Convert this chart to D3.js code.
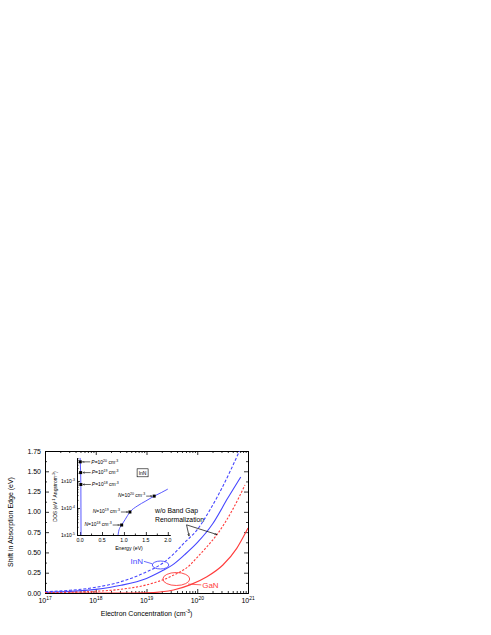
<!DOCTYPE html>
<html>
<head>
<meta charset="utf-8">
<script src="https://cdn.jsdelivr.net/npm/d3@7/dist/d3.min.js"></script>
<style>
  body { margin: 0; background: #fff; }
  svg { font-family: "Liberation Sans", Arial, sans-serif; }
</style>
</head>
<body>
<div id="chart"></div>
<script>
// ---- main chart data (electron concentration in cm^-3, shift in eV) ----
const innNoBgrN     = [1e17, 3.16e17, 1e18, 3.16e18, 1e19, 2e19, 3.16e19, 5.6e19, 1e20, 1.8e20, 3.16e20, 6.8e20];
const innNoBgrShift = [0.016, 0.034, 0.07, 0.14, 0.26, 0.36, 0.46, 0.62, 0.78, 1.03, 1.31, 1.75];

const innBgrN       = [1e17, 3.16e17, 1e18, 3.16e18, 1e19, 2e19, 3.16e19, 5.6e19, 1e20, 2e20, 4e20, 7.2e20];
const innBgrShift   = [0.008, 0.02, 0.045, 0.095, 0.18, 0.27, 0.34, 0.47, 0.62, 0.85, 1.17, 1.43];

const ganNoBgrN     = [1e17, 3.16e17, 1e18, 3.16e18, 1e19, 3.16e19, 7.2e19, 1e20, 1.55e20, 2.45e20, 5.1e20, 8.7e20];
const ganNoBgrShift = [0.004, 0.009, 0.021, 0.046, 0.10, 0.21, 0.345, 0.44, 0.57, 0.72, 1.04, 1.33];

const ganBgrN       = [3e17, 1e18, 3.16e18, 1e19, 2e19, 3.4e19, 7.2e19, 1.55e20, 3.2e20, 6e20, 1e21];
const ganBgrShift   = [0, 0, 0, 0.002, 0.015, 0.037, 0.10, 0.20, 0.345, 0.55, 0.80];

const xMajor = [1e17, 1e18, 1e19, 1e20, 1e21];
const xExp = ["17", "18", "19", "20", "21"];
const yMajor = [0, 0.25, 0.5, 0.75, 1.0, 1.25, 1.5, 1.75];

// ---- inset data (energy in eV, DOS in eV^-1 Angstrom^-3) ----
const cbEnergy = [0.866, 0.88, 0.91, 0.948, 1.03, 1.136, 1.3, 1.5, 1.689, 1.85, 2.0];
const cbDos    = [1e-5, 1.38e-5, 1.9e-5, 2.34e-5, 3.8e-5, 7.1e-5, 1.17e-4, 1.82e-4, 2.75e-4, 3.7e-4, 5.0e-4];
const vbEnergy = [0.022, 0.02, 0.018, 0.013, 0.005, 0.0];
const vbDos    = [1e-5, 1e-4, 7.4e-4, 2.04e-3, 5.1e-3, 7.1e-3];

const nPointE   = [0.948, 1.136, 1.689];
const nPointDos = [2.34e-5, 7.1e-5, 2.75e-4];
const nPointExp = ["18", "19", "20"];
const pPointE   = [0.018, 0.013, 0.005];
const pPointDos = [7.4e-4, 2.04e-3, 5.1e-3];
const pPointExp = ["18", "19", "20"];

const insetXTicks = [0, 0.5, 1.0, 1.5, 2.0];
const insetYTicks = [1e-5, 1e-4, 1e-3];
const insetYExp = ["-5", "-4", "-3"];

const blue = "#4646ff";
const red = "#ff3c3c";

const W = 491, H = 635;
const svg = d3.select("#chart").append("svg")
    .attr("width", W).attr("height", H);

svg.append("defs").append("marker")
    .attr("id", "arr")
    .attr("viewBox", "0 0 10 10")
    .attr("refX", 10).attr("refY", 5)
    .attr("markerWidth", 4).attr("markerHeight", 4)
    .attr("orient", "auto")
    .append("path")
    .attr("d", "M0,1 L10,5 L0,9")
    .attr("fill", "none")
    .attr("stroke", "#000")
    .attr("stroke-width", 1.5);

// main scales
const mL = 45, mR = 248, mT = 451, mB = 593;
const x = d3.scaleLog().domain([1e17, 1e21]).range([mL, mR]);
const y = d3.scaleLinear().domain([0, 1.75]).range([mB, mT]);

const xMinor = [];
for (let e = 17; e < 21; e++) {
    for (let k = 2; k < 10; k++) xMinor.push(k * Math.pow(10, e));
}
const yMinor = d3.range(0.125, 1.75, 0.25);

function styleAxis(g) {
    g.selectAll("path.domain").attr("stroke", "#000").attr("stroke-width", 1);
    g.selectAll(".tick line").attr("stroke", "#000").attr("stroke-width", 0.8);
    g.selectAll(".tick text").remove();
}

// main axes, ticks inward on all four sides
svg.append("g").attr("transform", `translate(0,${mB})`)
    .call(d3.axisBottom(x).tickValues(xMajor).tickSize(-4).tickSizeOuter(0).tickFormat(""))
    .call(styleAxis);
svg.append("g").attr("transform", `translate(0,${mB})`)
    .call(d3.axisBottom(x).tickValues(xMinor).tickSize(-2).tickSizeOuter(0).tickFormat(""))
    .call(styleAxis);
svg.append("g").attr("transform", `translate(0,${mT})`)
    .call(d3.axisTop(x).tickValues(xMajor).tickSize(-4).tickSizeOuter(0).tickFormat(""))
    .call(styleAxis);
svg.append("g").attr("transform", `translate(0,${mT})`)
    .call(d3.axisTop(x).tickValues(xMinor).tickSize(-2).tickSizeOuter(0).tickFormat(""))
    .call(styleAxis);
svg.append("g").attr("transform", `translate(${mL},0)`)
    .call(d3.axisLeft(y).tickValues(yMajor).tickSize(-4).tickSizeOuter(0).tickFormat(""))
    .call(styleAxis);
svg.append("g").attr("transform", `translate(${mL},0)`)
    .call(d3.axisLeft(y).tickValues(yMinor).tickSize(-2).tickSizeOuter(0).tickFormat(""))
    .call(styleAxis);
svg.append("g").attr("transform", `translate(${mR},0)`)
    .call(d3.axisRight(y).tickValues(yMajor).tickSize(-4).tickSizeOuter(0).tickFormat(""))
    .call(styleAxis);
svg.append("g").attr("transform", `translate(${mR},0)`)
    .call(d3.axisRight(y).tickValues(yMinor).tickSize(-2).tickSizeOuter(0).tickFormat(""))
    .call(styleAxis);

// text with superscripts: parts = [[str, isSup], ...]
function richText(parent, px, py, parts, size, anchor) {
    const t = parent.append("text")
        .attr("x", px).attr("y", py)
        .attr("font-size", size)
        .attr("text-anchor", anchor || "start");
    let up = false;
    parts.forEach(p => {
        const s = t.append("tspan").text(p[0]);
        if (p[1] && !up) { s.attr("dy", -size * 0.4).attr("font-size", size * 0.7); up = true; }
        else if (p[1]) { s.attr("font-size", size * 0.7); }
        else if (!p[1] && up) { s.attr("dy", size * 0.4); up = false; }
    });
    return t;
}

// tick labels
yMajor.forEach(v => {
    svg.append("text").attr("x", mL - 4).attr("y", y(v) + 2.5)
        .attr("font-size", 7).attr("text-anchor", "end")
        .text(v.toFixed(2));
});
xMajor.forEach((v, i) => {
    richText(svg, x(v), mB + 10, [["10", false], [xExp[i], true]], 7, "middle");
});

richText(svg, (mL + mR) / 2, 616,
    [["Electron Concentration (cm", false], ["-3", true], [")", false]], 7, "middle");
svg.append("text")
    .attr("transform", `translate(13,${(mT + mB) / 2}) rotate(-90)`)
    .attr("font-size", 7).attr("text-anchor", "middle")
    .text("Shift in Absorption Edge (eV)");

// curves
svg.append("clipPath").attr("id", "plotClip")
    .append("rect").attr("x", mL).attr("y", mT)
    .attr("width", mR - mL).attr("height", mB - mT);

const line = d3.line()
    .x(d => x(d[0])).y(d => y(d[1]))
    .curve(d3.curveMonotoneX);

const series = [
    { n: innNoBgrN, s: innNoBgrShift, color: blue, dash: "3,1.8" },
    { n: innBgrN, s: innBgrShift, color: blue, dash: null },
    { n: ganNoBgrN, s: ganNoBgrShift, color: red, dash: "2.2,1.6" },
    { n: ganBgrN, s: ganBgrShift, color: red, dash: null }
];
const curves = svg.append("g").attr("clip-path", "url(#plotClip)");
series.forEach(sr => {
    curves.append("path")
        .datum(d3.zip(sr.n, sr.s))
        .attr("d", line)
        .attr("fill", "none")
        .attr("stroke", sr.color)
        .attr("stroke-width", 1.1)
        .attr("stroke-dasharray", sr.dash);
});

// annotations (placed in data coordinates)
function ellipseAt(cx, cy, ex0, ex1, ey0, ey1, color) {
    svg.append("ellipse")
        .attr("cx", x(cx)).attr("cy", y(cy))
        .attr("rx", (x(ex1) - x(ex0)) / 2)
        .attr("ry", (y(ey0) - y(ey1)) / 2)
        .attr("fill", "none").attr("stroke", color).attr("stroke-width", 0.9);
}
ellipseAt(1.89e19, 0.345, 1.3e19, 2.75e19, 0.296, 0.394, blue);
ellipseAt(3.86e19, 0.1725, 2.1e19, 7.1e19, 0.0925, 0.2525, red);

svg.append("text").attr("x", x(8.5e18)).attr("y", y(0.362))
    .attr("font-size", 8).attr("text-anchor", "end").attr("fill", blue)
    .text("InN");
svg.append("line")
    .attr("x1", x(8.9e18)).attr("y1", y(0.39))
    .attr("x2", x(1.3e19)).attr("y2", y(0.36))
    .attr("stroke", blue).attr("stroke-width", 0.8);

svg.append("text").attr("x", x(1.25e20)).attr("y", y(0.06))
    .attr("font-size", 8).attr("fill", red)
    .text("GaN");
svg.append("line")
    .attr("x1", x(6.6e19)).attr("y1", y(0.11))
    .attr("x2", x(1.2e20)).attr("y2", y(0.1))
    .attr("stroke", red).attr("stroke-width", 0.8);

svg.append("text").attr("x", x(1.47e19)).attr("y", y(0.98))
    .attr("font-size", 6.8).text("w/o Band Gap");
svg.append("text").attr("x", x(1.47e19)).attr("y", y(0.87))
    .attr("font-size", 6.8).text("Renormalization");
[[6.9e19, 0.70], [2.45e20, 0.72]].forEach(tip => {
    svg.append("line")
        .attr("x1", x(6.15e19)).attr("y1", y(0.84))
        .attr("x2", x(tip[0])).attr("y2", y(tip[1]))
        .attr("stroke", "#000").attr("stroke-width", 0.7)
        .attr("marker-end", "url(#arr)");
});

// ---- inset ----
const iL = 77, iR = 170, iT = 458, iB = 535;
const ix = d3.scaleLinear().domain([-0.07, 2.05]).range([iL, iR]);
const iy = d3.scaleLog().domain([1e-5, Math.pow(10, -2.15)]).range([iB, iT]);

const ixMinor = d3.range(0.25, 2.0, 0.5);
const iyMinor = [];
for (let e = -5; e < -2; e++) {
    for (let k = 2; k < 10; k++) {
        const v = k * Math.pow(10, e);
        if (v < Math.pow(10, -2.15)) iyMinor.push(v);
    }
}

svg.append("g").attr("transform", `translate(0,${iB})`)
    .call(d3.axisBottom(ix).tickValues(insetXTicks).tickSize(-3).tickSizeOuter(0).tickFormat(""))
    .call(styleAxis);
svg.append("g").attr("transform", `translate(0,${iB})`)
    .call(d3.axisBottom(ix).tickValues(ixMinor).tickSize(-1.5).tickSizeOuter(0).tickFormat(""))
    .call(styleAxis);
svg.append("g").attr("transform", `translate(${iL},0)`)
    .call(d3.axisLeft(iy).tickValues(insetYTicks).tickSize(-3).tickSizeOuter(0).tickFormat(""))
    .call(styleAxis);
svg.append("g").attr("transform", `translate(${iL},0)`)
    .call(d3.axisLeft(iy).tickValues(iyMinor).tickSize(-1.5).tickSizeOuter(0).tickFormat(""))
    .call(styleAxis);

insetXTicks.forEach(v => {
    svg.append("text").attr("x", ix(v)).attr("y", iB + 7)
        .attr("font-size", 5.2).attr("text-anchor", "middle")
        .text(v.toFixed(1));
});
insetYTicks.forEach((v, i) => {
    richText(svg, iL - 2, iy(v) + 2, [["1x10", false], [insetYExp[i], true]], 5, "end");
});
svg.append("text").attr("x", 129).attr("y", iB + 15)
    .attr("font-size", 5.2).attr("text-anchor", "middle")
    .text("Energy (eV)");
const dosLabel = svg.append("text")
    .attr("transform", `translate(57,${(iT + iB) / 2}) rotate(-90)`)
    .attr("font-size", 5).attr("text-anchor", "middle");
dosLabel.append("tspan").text("DOS (eV");
dosLabel.append("tspan").text("-1").attr("dy", -2).attr("font-size", 3.5);
dosLabel.append("tspan").text(" Angstrom").attr("dy", 2);
dosLabel.append("tspan").text("-3").attr("dy", -2).attr("font-size", 3.5);
dosLabel.append("tspan").text(")").attr("dy", 2);

svg.append("clipPath").attr("id", "insetClip")
    .append("rect").attr("x", iL).attr("y", iT - 2)
    .attr("width", iR - iL + 2).attr("height", iB - iT + 2);

const iline = d3.line().x(d => ix(d[0])).y(d => iy(d[1]));
const ig = svg.append("g").attr("clip-path", "url(#insetClip)");
ig.append("path").datum(d3.zip(cbEnergy, cbDos))
    .attr("d", iline.curve(d3.curveMonotoneX))
    .attr("fill", "none").attr("stroke", blue).attr("stroke-width", 0.9);
ig.append("path").datum(d3.zip(vbEnergy, vbDos))
    .attr("d", d3.line().x(d => ix(d[0])).y(d => iy(d[1])))
    .attr("fill", "none").attr("stroke", blue).attr("stroke-width", 0.9);

// marked points and their labels
function marker(px, py) {
    svg.append("rect").attr("x", px - 1.5).attr("y", py - 1.5)
        .attr("width", 3).attr("height", 3).attr("fill", "#000");
}
pPointE.forEach((e, i) => {
    const px = ix(e), py = iy(pPointDos[i]);
    marker(px, py);
    svg.append("line").attr("x1", px + 10).attr("y1", py).attr("x2", px + 2).attr("y2", py)
        .attr("stroke", "#000").attr("stroke-width", 0.6).attr("marker-end", "url(#arr)");
    richText(svg, px + 11, py + 1.8,
        [["P", false], ["=10", false], [pPointExp[i], true], [" cm", false], ["-3", true]], 5, "start")
        .select("tspan").attr("font-style", "italic");
});
const nGap = [9, 9, 8];
nPointE.forEach((e, i) => {
    const px = ix(e), py = iy(nPointDos[i]);
    marker(px, py);
    svg.append("line").attr("x1", px - nGap[i]).attr("y1", py).attr("x2", px - 2).attr("y2", py)
        .attr("stroke", "#000").attr("stroke-width", 0.6).attr("marker-end", "url(#arr)");
    richText(svg, px - nGap[i] - 1, py + 1.2,
        [["N", false], ["=10", false], [nPointExp[i], true], [" cm", false], ["-3", true]], 5, "end")
        .select("tspan").attr("font-style", "italic");
});

// boxed material label
svg.append("rect").attr("x", ix(1.3)).attr("y", iy(Math.pow(10, -2.55)))
    .attr("width", 11).attr("height", 8)
    .attr("fill", "#fff").attr("stroke", "#000").attr("stroke-width", 0.6);
svg.append("text").attr("x", ix(1.3) + 5.5).attr("y", iy(Math.pow(10, -2.55)) + 6)
    .attr("font-size", 5).attr("text-anchor", "middle").text("InN");
</script>
</body>
</html>
